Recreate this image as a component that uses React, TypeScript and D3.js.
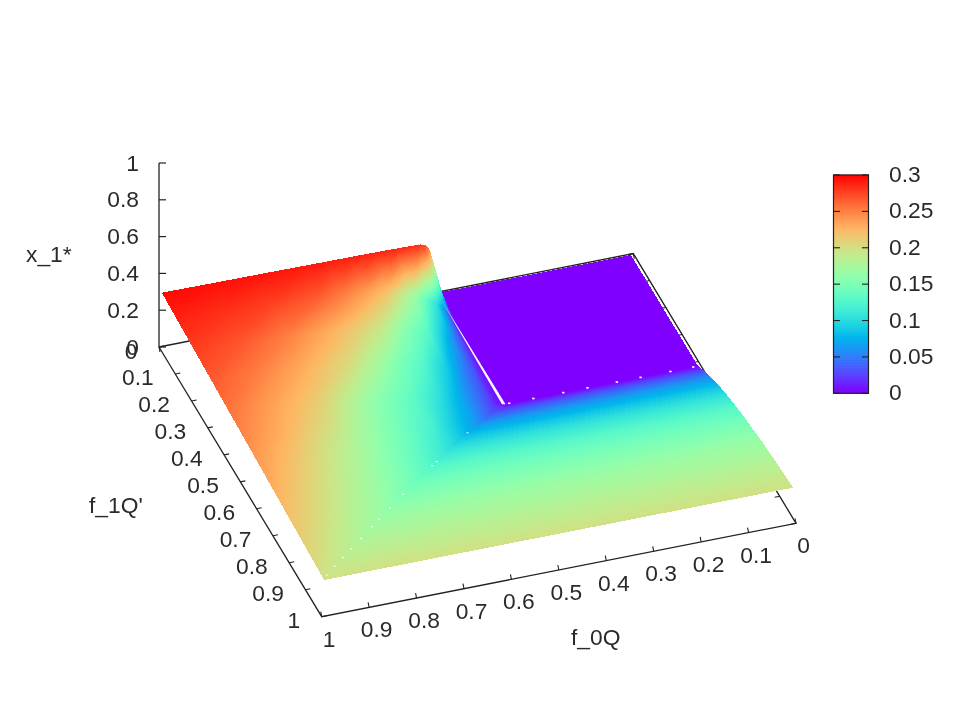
import * as d3 from "d3";

const WIDTH = 954;
const HEIGHT = 715;
const FONT = "'Liberation Sans', Arial, sans-serif";
const INK = "#222";

const f0Ticks = [0, 0.1, 0.2, 0.3, 0.4, 0.5, 0.6, 0.7, 0.8, 0.9, 1];
const f1Ticks = [0, 0.1, 0.2, 0.3, 0.4, 0.5, 0.6, 0.7, 0.8, 0.9, 1];
const zTicks = [0, 0.2, 0.4, 0.6, 0.8, 1];
const cbTicks = [0, 0.05, 0.1, 0.15, 0.2, 0.25, 0.3];

// surface samples. columns are f_0Q, rows are f_1Q'
const f0Grid = [0.006, 0.2, 0.41, 0.412, 0.415, 0.418, 0.42, 0.425, 0.43, 0.44, 0.45, 0.5, 0.55, 0.6, 0.65, 0.7, 0.8, 0.9, 0.995];
const f1Grid = [0.003, 0.1, 0.2, 0.3, 0.4, 0.415, 0.45, 0.5, 0.55, 0.6, 0.65, 0.7, 0.8, 0.9, 1];

const row000 = [0, 0, 0, 0.03, 0.06, 0.097, 0.125, 0.197, 0.243, 0.275, 0.283, 0.286, 0.288, 0.289, 0.29, 0.291, 0.293, 0.295, 0.297];
const row010 = [0, 0, 0, 0.002, 0.011, 0.021, 0.027, 0.037, 0.052, 0.079, 0.104, 0.172, 0.2145, 0.236, 0.252, 0.265, 0.276, 0.282, 0.287];
const row020 = [0, 0, 0, 0, 0.004, 0.009, 0.012, 0.02, 0.03, 0.043, 0.061, 0.125, 0.156, 0.192, 0.211, 0.2255, 0.251, 0.268, 0.277];
const row030 = [0, 0, 0, 0, 0.002, 0.004, 0.006, 0.012, 0.017, 0.032, 0.04, 0.09, 0.128, 0.151, 0.177, 0.202, 0.23, 0.252, 0.267];
const row040 = [0, 0, 0, 0, 0.001, 0.003, 0.004, 0.008, 0.012, 0.023, 0.032, 0.068, 0.105, 0.131, 0.149, 0.17, 0.212, 0.236, 0.257];
const row0415 = [0, 0, 0, 0, 0, 0.002, 0.003, 0.007, 0.011, 0.021, 0.03, 0.066, 0.1015, 0.128, 0.146, 0.165, 0.21, 0.234, 0.2555];
const row045 = [0.028, 0.028, 0.028, 0.028, 0.028, 0.028, 0.028, 0.028, 0.028, 0.028, 0.028, 0.064, 0.095, 0.124, 0.142, 0.16, 0.204, 0.23, 0.252];
const row050 = [0.06, 0.06, 0.06, 0.06, 0.06, 0.06, 0.06, 0.06, 0.06, 0.06, 0.06, 0.06, 0.087, 0.119, 0.137, 0.155, 0.195, 0.2245, 0.247];
const row055 = [0.085, 0.085, 0.085, 0.085, 0.085, 0.085, 0.085, 0.085, 0.085, 0.085, 0.085, 0.085, 0.085, 0.112, 0.1325, 0.151, 0.187, 0.2175, 0.242];
const row060 = [0.107, 0.107, 0.107, 0.107, 0.107, 0.107, 0.107, 0.107, 0.107, 0.107, 0.107, 0.107, 0.107, 0.107, 0.128, 0.146, 0.181, 0.211, 0.237];
const row065 = [0.125, 0.125, 0.125, 0.125, 0.125, 0.125, 0.125, 0.125, 0.125, 0.125, 0.125, 0.125, 0.125, 0.125, 0.125, 0.143, 0.176, 0.206, 0.232];
const row070 = [0.14, 0.14, 0.14, 0.14, 0.14, 0.14, 0.14, 0.14, 0.14, 0.14, 0.14, 0.14, 0.14, 0.14, 0.14, 0.14, 0.172, 0.201, 0.227];
const row080 = [0.164, 0.164, 0.164, 0.164, 0.164, 0.164, 0.164, 0.164, 0.164, 0.164, 0.164, 0.164, 0.164, 0.164, 0.164, 0.164, 0.164, 0.191, 0.217];
const row090 = [0.182, 0.182, 0.182, 0.182, 0.182, 0.182, 0.182, 0.182, 0.182, 0.182, 0.182, 0.182, 0.182, 0.182, 0.182, 0.182, 0.182, 0.182, 0.207];
const row100 = [0.197, 0.197, 0.197, 0.197, 0.197, 0.197, 0.197, 0.197, 0.197, 0.197, 0.197, 0.197, 0.197, 0.197, 0.197, 0.197, 0.197, 0.197, 0.197];

const zTable = [row000, row010, row020, row030, row040, row0415, row045, row050, row055, row060, row065, row070, row080, row090, row100];

// small holes in the surface
const frontEdgeHoles = [0.404, 0.353, 0.29, 0.239, 0.177, 0.127, 0.064, 0.016];
const diagonalHoles = [0.532, 0.631, 0.645, 0.739, 0.781, 0.816, 0.839, 0.874, 0.906, 0.932, 0.958, 0.984];
const diagonalHoleZ = [0.076, 0.115, 0.12, 0.15, 0.159, 0.167, 0.171, 0.177, 0.183, 0.187, 0.191, 0.195];

// 3d box as it lands on the page
const xFromF0 = d3.scaleLinear().domain([0, 1]).range([633.3, 159]);
const xFromF1 = d3.scaleLinear().domain([0, 1]).range([0, 162.7]);
const yFromF0 = d3.scaleLinear().domain([0, 1]).range([253.6, 347]);
const yFromF1 = d3.scaleLinear().domain([0, 1]).range([0, 269.7]);
const yFromZ = d3.scaleLinear().domain([0, 1]).range([347, 163]);
const cbY = d3.scaleLinear().domain([0, 0.3]).range([393.3, 175]);

function project(f0: number, f1: number, z: number): [number, number] {
  return [xFromF0(f0) + xFromF1(f1), yFromF0(f0) + yFromF1(f1) + (yFromZ(z) - 347)];
}

// gnuplot palette rgbformulae 33,13,10
function palette(z: number) {
  const t = Math.max(0, Math.min(1, z / 0.3));
  const r = Math.abs(2 * t - 0.5);
  const g = Math.sin(Math.PI * t);
  const b = Math.cos((Math.PI * t) / 2);
  return d3.rgb(Math.min(1, r) * 255, g * 255, b * 255).formatHex();
}

const toPath = (pts: [number, number][]) =>
  "M" + pts.map((p) => p[0].toFixed(1) + "," + p[1].toFixed(1)).join("L") + "Z";

// whole cells in their mean colour, they only show through the pinholes between patches
function buildBacking(): [string, string][] {
  const cells: [string, string][] = [];
  for (let j = 0; j < f1Grid.length - 1; j++) {
    for (let i = 0; i < f0Grid.length - 1; i++) {
      const zs = [zTable[j][i], zTable[j][i + 1], zTable[j + 1][i + 1], zTable[j + 1][i]];
      const pts = [
        project(f0Grid[i], f1Grid[j], zs[0]),
        project(f0Grid[i + 1], f1Grid[j], zs[1]),
        project(f0Grid[i + 1], f1Grid[j + 1], zs[2]),
        project(f0Grid[i], f1Grid[j + 1], zs[3]),
      ];
      cells.push([palette(d3.mean(zs)!), toPath(pts)]);
    }
  }
  return cells;
}

// one path per colour, the surface has too many small patches for one element each
function buildPatches(): [string, string][] {
  const byColor = new Map<string, string[]>();
  const step = 1.25;
  for (let j = 0; j < f1Grid.length - 1; j++) {
    for (let i = 0; i < f0Grid.length - 1; i++) {
      const z00 = zTable[j][i];
      const z10 = zTable[j][i + 1];
      const z01 = zTable[j + 1][i];
      const z11 = zTable[j + 1][i + 1];
      const spanU = Math.abs(xFromF0(f0Grid[i + 1]) - xFromF0(f0Grid[i]));
      const spanV = Math.abs(yFromF1(f1Grid[j + 1]) - yFromF1(f1Grid[j]));
      const square = f0Grid[i] === f1Grid[j] && f0Grid[i + 1] === f1Grid[j + 1];
      let nu = z00 === z10 && z01 === z11 ? 1 : Math.ceil(spanU / step);
      let nv = z00 === z01 && z10 === z11 ? 1 : Math.ceil(Math.max(spanV, Math.abs(z01 - z00) * 184, Math.abs(z11 - z10) * 184) / step);
      if (square) {
        nu = nv = Math.max(nu, nv);
      }
      // cell shaded as two triangles, so the crease on f0 = f1 stays sharp
      const at = (u: number, v: number) =>
        u >= v
          ? z00 + (z10 - z00) * u + (z11 - z10) * v
          : z00 + (z01 - z00) * v + (z11 - z01) * u;
      const f0At = (u: number) => f0Grid[i] + (f0Grid[i + 1] - f0Grid[i]) * u;
      const f1At = (v: number) => f1Grid[j] + (f1Grid[j + 1] - f1Grid[j]) * v;
      for (let b = 0; b < nv; b++) {
        for (let a = 0; a < nu; a++) {
          const corners = [
            [a / nu, b / nv],
            [(a + 1) / nu, b / nv],
            [(a + 1) / nu, (b + 1) / nv],
            [a / nu, (b + 1) / nv],
          ];
          const zs = corners.map(([u, v]) => at(u, v));
          const pts = corners.map(([u, v], k) => project(f0At(u), f1At(v), zs[k]));
          const color = palette(d3.mean(zs)!);
          if (!byColor.has(color)) byColor.set(color, []);
          byColor.get(color)!.push(toPath(pts));
        }
      }
    }
  }
  return Array.from(byColor, ([color, ds]) => [color, ds.join("")] as [string, string]);
}

const backing = buildBacking();
const patches = buildPatches();
const cbStops = d3.range(0, 110).map((k) => (k * 0.3) / 110);

const textStyle = { fontFamily: FONT, fontSize: 22.8, fill: "#2a2a2a" };

export default function App() {
  const corners = {
    backLeft: project(1, 0, 0),
    backRight: project(0, 0, 0),
    frontRight: project(0, 1, 0),
    frontLeft: project(1, 1, 0),
  };
  const border = d3.line()([corners.backLeft, corners.backRight, corners.frontRight, corners.frontLeft, corners.backLeft])!;
  const zAxisX = corners.backLeft[0];

  const [tearTopX, tearTopY] = project(0.4145, 0.03, 0);
  const [tearBotX, tearBotY] = project(0.4155, 0.415, 0);

  return (
    <svg
      width={WIDTH}
      height={HEIGHT}
      viewBox={`0 0 ${WIDTH} ${HEIGHT}`}
      style={{ position: "absolute", left: 0, top: 0, display: "block", background: "#fff" }}
    >
      {/* the reference is a soft, scaled up raster */}
      <g style={{ filter: "blur(0.6px)" }}>
        {/* base of the box */}
        <path d={border} fill="none" stroke={INK} strokeWidth={1.3} />
        <line x1={zAxisX} x2={zAxisX} y1={yFromZ(0)} y2={yFromZ(1)} stroke={INK} strokeWidth={1.3} />

        {zTicks.map((t) => (
          <g key={t}>
            <line x1={zAxisX} x2={zAxisX + 7} y1={yFromZ(t)} y2={yFromZ(t)} stroke={INK} strokeWidth={1.2} />
            <text x={zAxisX - 20} y={yFromZ(t) + 7.5} textAnchor="end" style={textStyle}>
              {t}
            </text>
          </g>
        ))}

        {f1Ticks.map((t) => {
          const [x, y] = project(1, t, 0);
          const [mx, my] = project(0, t, 0);
          return (
            <g key={t}>
              <line x1={x} y1={y} x2={x + 5} y2={y - 1} stroke={INK} strokeWidth={1.1} />
              <line x1={mx} y1={my} x2={mx - 5} y2={my + 1} stroke={INK} strokeWidth={1.1} />
              <text x={x - 21.5} y={y + 11.5} textAnchor="end" style={textStyle}>
                {t}
              </text>
            </g>
          );
        })}

        {f0Ticks.map((t) => {
          const [x, y] = project(t, 1, 0);
          const [bx, by] = project(t, 0, 0);
          return (
            <g key={t}>
              <line x1={x} y1={y} x2={x - 1} y2={y - 5} stroke={INK} strokeWidth={1.1} />
              <line x1={bx} y1={by} x2={bx + 1} y2={by + 5} stroke={INK} strokeWidth={1.1} />
              <text x={x + 7.5} y={y + 30} textAnchor="middle" style={textStyle}>
                {t}
              </text>
            </g>
          );
        })}

        {/* surface */}
        {backing.map(([color, d], k) => (
          <path key={k} d={d} fill={color} shapeRendering="crispEdges" />
        ))}
        {patches.map(([color, d]) => (
          <path key={color} d={d} fill={color} shapeRendering="crispEdges" />
        ))}

        <path
          d={`M${tearTopX},${tearTopY}L${tearBotX + 1.8},${tearBotY}L${tearBotX - 1.8},${tearBotY}Z`}
          fill="#fff"
        />
        {frontEdgeHoles.map((f) => {
          const [x, y] = project(f, 0.415, 0);
          return <rect key={f} x={x - 1.2} y={y - 0.8} width={2.4} height={1.6} fill="#fff" />;
        })}
        {diagonalHoles.map((f, k) => {
          const [x, y] = project(f, f, diagonalHoleZ[k]);
          return <rect key={f} x={x - 1} y={y - 0.6} width={2} height={1.2} fill="#fff" opacity={0.85} />;
        })}

        {/* axis titles */}
        <text x={26} y={262} style={textStyle}>x_1*</text>
        <text x={89} y={513} style={textStyle}>f_1Q'</text>
        <text x={571} y={645} style={textStyle}>f_0Q</text>

        {/* colour box */}
        {cbStops.map((z) => (
          <rect key={z} x={834} width={34} y={cbY(z + 0.3 / 110) - 0.3} height={cbY(0) - cbY(0.3 / 110) + 0.6} fill={palette(z)} />
        ))}
        <rect x={833.5} y={175} width={35} height={218.3} fill="none" stroke={INK} strokeWidth={1.2} />
        {cbTicks.map((t) => (
          <g key={t}>
            <line x1={833.5} x2={840} y1={cbY(t)} y2={cbY(t)} stroke={INK} strokeWidth={1.1} />
            <line x1={868.5} x2={862} y1={cbY(t)} y2={cbY(t)} stroke={INK} strokeWidth={1.1} />
            <text x={889} y={cbY(t) + 7} style={textStyle}>
              {t}
            </text>
          </g>
        ))}
      </g>
    </svg>
  );
}
